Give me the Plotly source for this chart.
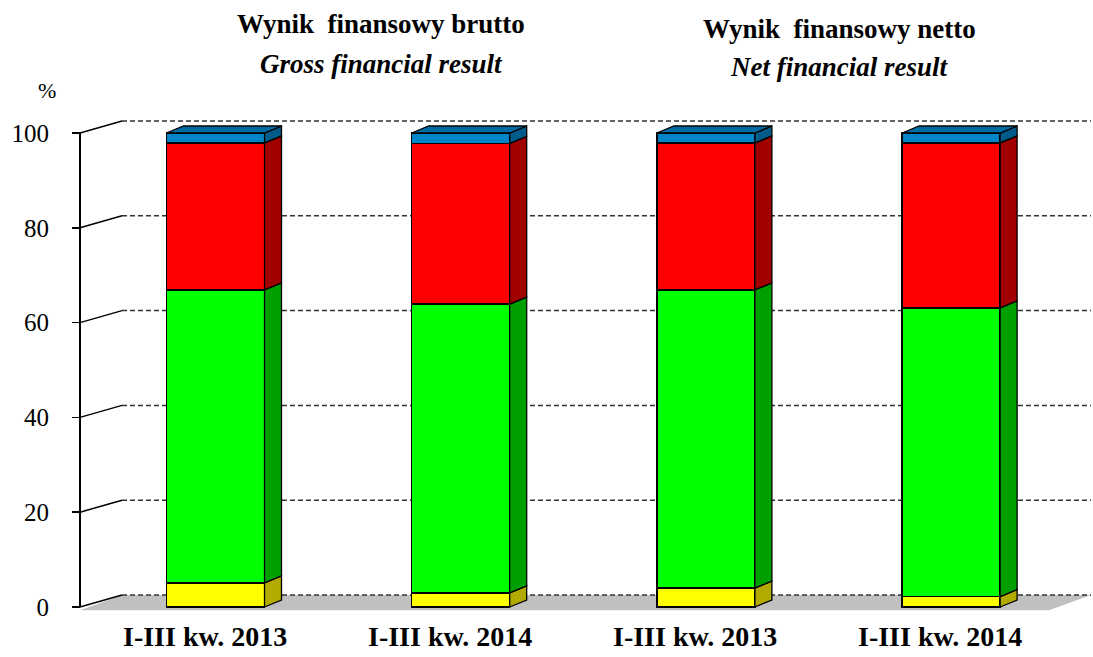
import plotly.graph_objects as go

# ---- data ----
categories = ["I-III kw. 2013", "I-III kw. 2014", "I-III kw. 2013", "I-III kw. 2014"]
yellow = [5.1, 3.0, 4.0, 2.2]
green = [61.8, 60.9, 62.9, 60.9]
red = [31.0, 33.9, 31.0, 34.8]
blue = [2.1, 2.2, 2.1, 2.1]
y_ticks = [0, 20, 40, 60, 80, 100]
titles_pl = ["Wynik  finansowy brutto", "Wynik  finansowy netto"]
titles_en = ["Gross financial result", "Net financial result"]

# ---- geometry helpers (pixel frame -> data frame) ----
W, H = 1093, 657
L, R, T, B = 60, 1091, 110, 615
PX_PER_CAT = 245.2
X0_PX = 215.5
Y0_PX = 607
PX_PER_UNIT = 4.74


def xv(px):
    return (px - X0_PX) / PX_PER_CAT


def yv(py):
    return (Y0_PX - py) / PX_PER_UNIT


def ppx(px):
    return (px - L) / (R - L)


def ppy(py):
    return (B - py) / (B - T)


BAR_W = 98 / PX_PER_CAT
BDX, BDY = 17 / PX_PER_CAT, 7 / PX_PER_UNIT
GDX, GDY = 42 / PX_PER_CAT, 12 / PX_PER_UNIT
XA = xv(80)
XEND = xv(1091)

serif = "Liberation Serif"

series = [
    ("yellow", yellow, "#FFFF00", "#B3AA00"),
    ("green", green, "#00FF00", "#009F00"),
    ("red", red, "#FF0000", "#A00000"),
    ("blue", blue, "#0086C8", "#005B8A"),
]
top_color = "#006CA3"

xs = list(range(len(categories)))
fig = go.Figure()

for name, vals, col, _ in series:
    fig.add_trace(go.Bar(
        x=xs, y=vals, name=name, width=BAR_W,
        marker=dict(color=col, line=dict(color="black", width=1.5)),
        showlegend=False, hoverinfo="skip",
    ))

# side faces and top faces
for i in xs:
    base = 0.0
    xr = i + BAR_W / 2
    xl = i - BAR_W / 2
    for name, vals, col, side in series:
        top = base + vals[i]
        fig.add_trace(go.Scatter(
            x=[xr, xr + BDX, xr + BDX, xr, xr],
            y=[base, base + BDY, top + BDY, top, base],
            mode="lines", fill="toself", fillcolor=side,
            line=dict(color="black", width=1.3),
            showlegend=False, hoverinfo="skip",
        ))
        base = top
    fig.add_trace(go.Scatter(
        x=[xl, xl + BDX, xr + BDX, xr, xl],
        y=[base, base + BDY, base + BDY, base, base],
        mode="lines", fill="toself", fillcolor=top_color,
        line=dict(color="black", width=1.3),
        showlegend=False, hoverinfo="skip",
    ))

shapes = []
# floor
shapes.append(dict(
    type="path", layer="below", xref="x", yref="y",
    path=f"M {XA},{-0.7} L {XA + GDX},{GDY} L {XEND},{GDY} L {XEND - GDX},{-0.7} Z",
    fillcolor="#C0C0C0", line=dict(width=0),
))
for v in y_ticks:
    shapes.append(dict(type="line", layer="below", xref="x", yref="y",
                       x0=XA + GDX, x1=XEND, y0=v + GDY, y1=v + GDY,
                       line=dict(color="#333333", width=1.5, dash="5px,3px")))
    shapes.append(dict(type="line", layer="below", xref="x", yref="y",
                       x0=XA, x1=XA + GDX, y0=v, y1=v + GDY,
                       line=dict(color="black", width=1.5)))
shapes.append(dict(type="line", xref="x", yref="y", x0=XA, x1=XA,
                   y0=0, y1=100, line=dict(color="black", width=2)))

annotations = []
for i, c in enumerate(categories):
    annotations.append(dict(
        x=i, y=ppy(636), xref="x", yref="paper", text=f"<b>{c}</b>", showarrow=False,
        xshift=-11, font=dict(family=serif, size=28, color="black", weight="bold"),
        xanchor="center", yanchor="middle",
    ))
title_x = [381, 839]
title_y1 = [24, 29]
title_y2 = [64, 67]
for k in range(2):
    annotations.append(dict(
        x=ppx(title_x[k]), y=ppy(title_y1[k]), xref="paper", yref="paper",
        text=f"<b>{titles_pl[k]}</b>", showarrow=False,
        font=dict(family=serif, size=27, color="black", weight="bold"),
        xanchor="center", yanchor="middle",
    ))
    annotations.append(dict(
        x=ppx(title_x[k]), y=ppy(title_y2[k]), xref="paper", yref="paper",
        text=f"<b><i>{titles_en[k]}</i></b>", showarrow=False,
        font=dict(family=serif, size=27, color="black", weight="bold", style="italic"),
        xanchor="center", yanchor="middle",
    ))
annotations.append(dict(
    x=ppx(47), y=ppy(91), xref="paper", yref="paper", text="%",
    showarrow=False, font=dict(family=serif, size=22, color="black"),
    xanchor="center", yanchor="middle",
))

fig.update_layout(
    width=W, height=H,
    margin=dict(l=L, r=W - R, t=T, b=H - B, pad=0),
    paper_bgcolor="white", plot_bgcolor="white",
    barmode="stack", bargap=0,
    shapes=shapes, annotations=annotations,
    xaxis=dict(range=[xv(L), xv(R)], showticklabels=False, showgrid=False,
               zeroline=False, showline=False, ticks=""),
    yaxis=dict(range=[yv(B), yv(T)], anchor="free", position=ppx(80),
               tickvals=y_ticks, ticks="outside", ticklen=8, tickwidth=1.5,
               tickcolor="black", showgrid=False, zeroline=False, showline=False,
               ticklabelstandoff=18,
               tickfont=dict(family=serif, size=25, color="black")),
)

fig.write_html("out.html", config={"displayModeBar": False, "staticPlot": True})

# remove the browser's default page margin so the figure sits at (0, 0)
with open("out.html", "r", encoding="utf-8") as f:
    html = f.read()
html = html.replace("<head>", "<head><style>html,body{margin:0;padding:0;overflow:hidden}</style>", 1)
with open("out.html", "w", encoding="utf-8") as f:
    f.write(html)
